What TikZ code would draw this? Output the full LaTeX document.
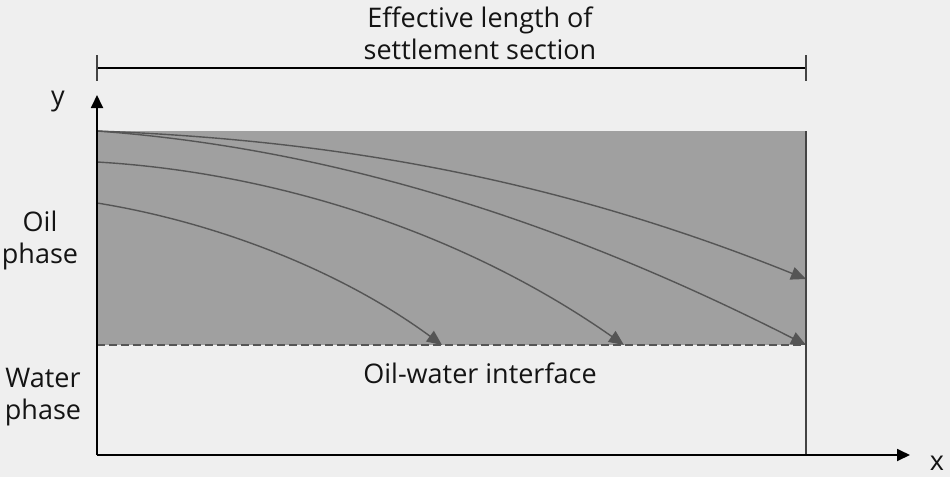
\documentclass[tikz,border=0pt]{standalone}
\usepackage{fontspec}
\setmainfont{Open Sans}
\usetikzlibrary{arrows.meta}
\definecolor{bg}{HTML}{EFEFEF}
\definecolor{oil}{HTML}{A0A0A0}
\definecolor{flow}{HTML}{555555}
\definecolor{wall}{HTML}{444444}
\definecolor{txt}{HTML}{141414}
\tikzset{
  lbl/.style={font=\fontsize{27}{32}\selectfont, text=txt, align=center, inner sep=0pt},
  flowline/.style={draw=flow, line width=1.4pt, -{Triangle[length=15pt,width=13pt]}},
  axis/.style={draw=black, line width=1.8pt, -{Triangle[length=13pt,width=12pt]}}
}
\begin{document}
\begin{tikzpicture}[x=1pt,y=-1pt]
\fill[bg] (0,0) rectangle (950,477);
\useasboundingbox (0,0) rectangle (950,477);
% oil region
\fill[oil] (97,131) rectangle (806,345);
\coordinate (O) at (97,455);
\coordinate (ytip) at (97,95);
\coordinate (xtip) at (910,455);
\coordinate (wtop) at (806,131);
\coordinate (wbot) at (806,455);
\coordinate (dl) at (97,345);
\coordinate (dr) at (806,345);
% dashed interface
\draw[draw=flow, line width=1.6pt, dash pattern=on 8pt off 4pt] (dl) -- (dr);
% flow lines
\coordinate (s1) at (97,131);
\coordinate (s3) at (97,162);
\coordinate (s4) at (97,203);
\coordinate (e1) at (806,279);
\coordinate (e2) at (806,345);
\coordinate (e3) at (624,345);
\coordinate (e4) at (442,345);
\draw[flowline] (s1) .. controls (340,140) and (560,180) .. (e1);
\draw[flowline] (s1) .. controls (330,148) and (560,220) .. (e2);
\draw[flowline] (s3) .. controls (270,172) and (460,230) .. (e3);
\draw[flowline] (s4) .. controls (215,222) and (340,270) .. (e4);
% wall
\draw[draw=wall, line width=2.8pt] (wtop) -- (wbot);
% axes
\draw[axis] (O) -- (ytip);
\draw[axis] (O) -- (xtip);
% dimension line
\coordinate (da) at (97,68);
\coordinate (db) at (806,68);
\draw[black, line width=1.8pt] (da) -- (db);
\draw[wall, line width=2.4pt] (97,55) -- (97,81);
\draw[wall, line width=2.4pt] (806,55) -- (806,81);
% labels
\node[lbl] (title) at (480,33) {Effective length of\\settlement section};
\node[lbl] (ylab) at (58,102) {y};
\node[lbl] (xlab) at (937,463) {x};
\node[lbl] (oil) at (40,240) {Oil\\phase};
\node[lbl] (water) at (43,397) {Water\\phase};
\node[lbl] (iface) at (480,373) {Oil-water interface};
\end{tikzpicture}
\end{document}
